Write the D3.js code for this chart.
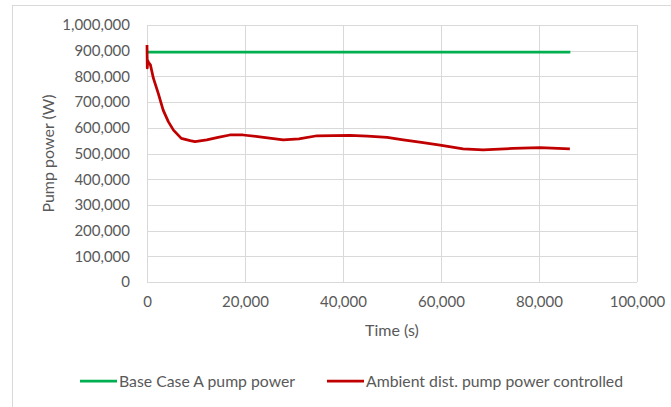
<!DOCTYPE html>
<html>
<head>
<meta charset="utf-8">
<script src="https://cdn.jsdelivr.net/npm/d3@7"></script>
<style>
  body { margin: 0; background: #fff; }
  text { font-family: Lato, "Open Sans", sans-serif; fill: #595959; }
</style>
</head>
<body>
<div id="chart"></div>
<script>
// values
const baseTime = [0, 86400];
const basePower = [894000, 894000];

const ctrlTime = [0, 60, 150, 300, 700, 1300, 2300, 3300, 4350, 5400, 7000, 8800, 9800, 12200, 14500, 16900, 19600, 23000, 27800, 31000, 34700, 41400, 45000, 49000, 52300, 56000, 59800, 64500, 68600, 74700, 80200, 86300];
const ctrlPower = [922000, 833000, 862000, 855000, 845000, 793000, 734000, 669000, 624000, 591000, 559000, 550000, 546000, 553000, 563000, 572000, 572000, 565000, 553000, 557000, 569000, 571000, 568000, 563000, 553000, 543000, 533000, 518000, 514000, 520000, 523000, 518000];

const xTicks = [0, 20000, 40000, 60000, 80000, 100000];
const yTicks = [0, 100000, 200000, 300000, 400000, 500000, 600000, 700000, 800000, 900000, 1000000];

const seriesNames = ['Base Case A pump power', 'Ambient dist. pump power controlled'];
const seriesColors = ['#00b050', '#c00000'];

const W = 671, H = 407;
const margin = {top: 25, right: 34, bottom: 125, left: 147};
const width = W - margin.left - margin.right,
      height = H - margin.top - margin.bottom;

const svg = d3.select('#chart').append('svg')
    .attr('width', W)
    .attr('height', H);

// chart frame (only left and top edges show)
svg.append('rect')
    .attr('x', 12.5).attr('y', 5.5)
    .attr('width', 700).attr('height', 450)
    .attr('fill', 'none')
    .attr('stroke', '#d9d9d9');

const g = svg.append('g')
    .attr('transform', `translate(${margin.left},${margin.top})`);

const x = d3.scaleLinear().domain([0, 100000]).range([0, width]);
const y = d3.scaleLinear().domain([0, 1000000]).range([height, 0]);

const fmt = d3.format(',');

// grid
g.append('g').selectAll('line.h')
    .data(yTicks)
    .join('line')
    .attr('x1', 0).attr('x2', width)
    .attr('y1', d => Math.round(y(d)) + 0.5).attr('y2', d => Math.round(y(d)) + 0.5)
    .attr('stroke', '#d9d9d9');

g.append('g').selectAll('line.v')
    .data(xTicks)
    .join('line')
    .attr('y1', 0).attr('y2', height)
    .attr('x1', d => Math.round(x(d)) + 0.5).attr('x2', d => Math.round(x(d)) + 0.5)
    .attr('stroke', '#d9d9d9');

// axes
const yAxis = d3.axisLeft(y).tickValues(yTicks).tickFormat(fmt).tickSize(0).tickPadding(17);
const xAxis = d3.axisBottom(x).tickValues(xTicks).tickFormat(fmt).tickSize(0).tickPadding(14);

g.append('g').call(yAxis)
    .call(a => a.select('.domain').remove())
    .selectAll('text').attr('font-size', 15).style('fill', '#595959');

g.append('g').attr('transform', `translate(0,${height})`).call(xAxis)
    .call(a => a.select('.domain').remove())
    .selectAll('text').attr('font-size', 15).style('fill', '#595959');

// axis titles
svg.append('text')
    .attr('transform', `translate(48,${margin.top + height / 2}) rotate(-90)`)
    .attr('text-anchor', 'middle')
    .attr('dy', '0.35em')
    .attr('font-size', 16)
    .text('Pump power (W)');

svg.append('text')
    .attr('x', margin.left + width / 2)
    .attr('y', 336)
    .attr('text-anchor', 'middle')
    .attr('font-size', 16)
    .text('Time (s)');

// lines
const line = d3.line()
    .x(d => x(d[0]))
    .y(d => y(d[1]));

const baseData = baseTime.map((t, i) => [t, basePower[i]]);
const ctrlData = ctrlTime.map((t, i) => [t, ctrlPower[i]]);

g.append('path')
    .datum(baseData)
    .attr('fill', 'none')
    .attr('stroke', seriesColors[0])
    .attr('stroke-width', 2.75)
    .attr('d', line);

g.append('path')
    .datum(ctrlData)
    .attr('fill', 'none')
    .attr('stroke', seriesColors[1])
    .attr('stroke-width', 2.75)
    .attr('stroke-linejoin', 'round')
    .attr('d', line);

// legend
const legendX = [80, 327];
const legend = svg.append('g').selectAll('g')
    .data(seriesNames)
    .join('g')
    .attr('transform', (d, i) => `translate(${legendX[i]},381)`);

legend.append('line')
    .attr('x1', 0).attr('x2', 37)
    .attr('stroke', (d, i) => seriesColors[i])
    .attr('stroke-width', 2.75);

legend.append('text')
    .attr('x', 39)
    .attr('dy', '0.35em')
    .attr('font-size', 15.8)
    .text(d => d);
</script>
</body>
</html>
